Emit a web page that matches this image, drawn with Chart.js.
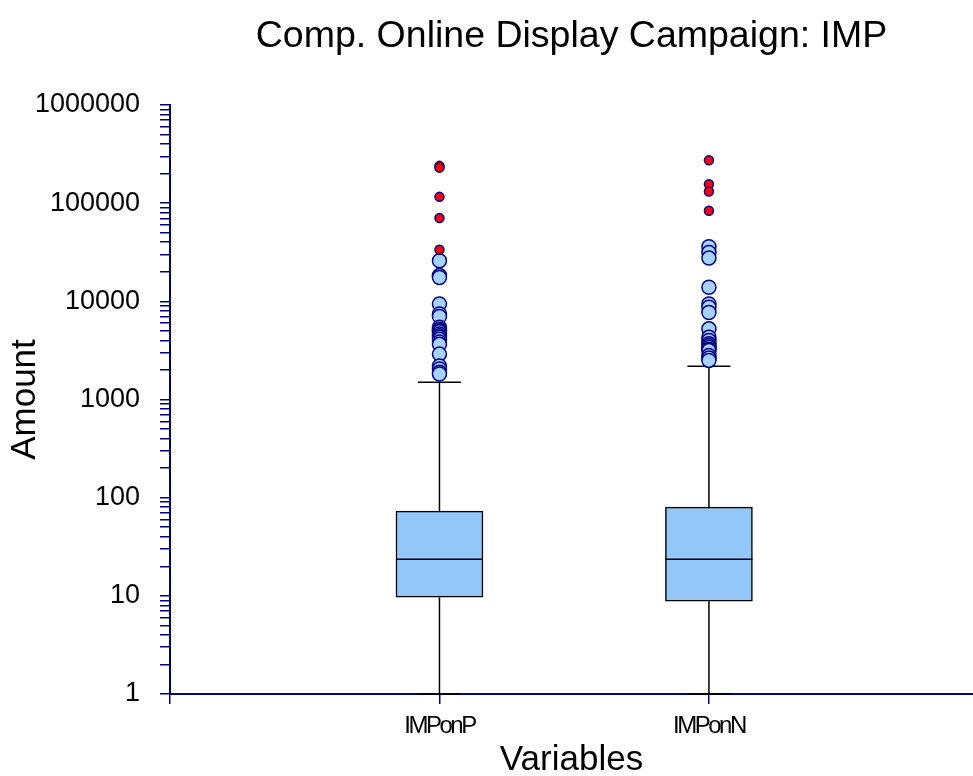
<!DOCTYPE html>
<html>
<head>
<meta charset="utf-8">
<script src="https://cdn.jsdelivr.net/npm/chart.js@4.4.0/dist/chart.umd.min.js"></script>
<style>
  html, body { margin: 0; padding: 0; background: #ffffff; }
  #wrap { width: 973px; height: 776px; }
</style>
</head>
<body>
<div id="wrap"><canvas id="chart" width="973" height="776"></canvas></div>
<script>
// Box-plot summaries for each variable
const categories   = ['IMPonP', 'IMPonN'];
const q1Values     = [9.7, 8.8];
const medianValues = [23.6, 23.6];
const q3Values     = [73, 80];
const whiskerLow   = [1, 1];
const whiskerHigh  = [1500, 2180];

// Outliers beyond the upper fence (light blue) and far outliers (red)
const nearOutliers = [
  [25900, 18300, 17500, 9400, 7450, 7000, 5450, 5200, 5050, 4900, 4650, 4450, 4300, 4100, 3850, 3650, 2900, 2200, 2050, 1900, 1820],
  [36000, 31500, 27600, 13900, 9400, 8700, 7700, 5250, 4300, 4000, 3700, 3550, 3400, 3250, 3150, 2800, 2650, 2500]
];
const farOutliers = [
  [240000, 230000, 116000, 70500, 33500],
  [274000, 156000, 131500, 83600]
];

// Labelled decades on the value axis
const yTickValues = [1, 10, 100, 1000, 10000, 100000, 1000000];

const NAVY = '#000080';
const BLACK = '#000000';
Chart.defaults.color = BLACK;
Chart.defaults.font.family = "'Liberation Sans', Arial, Helvetica, sans-serif";

// position of each category on the linear x axis
const xPos = categories.map((_, i) => i + 1);

// minor + major tick values for the log axis: 1..9 x 10^n
const logTicks = [];
yTickValues.forEach((d, i) => {
  if (i === yTickValues.length - 1) { logTicks.push(d); return; }
  for (let k = 1; k <= 9; k++) logTicks.push(k * d);
});

const whiskerSets = [];
categories.forEach((c, i) => {
  whiskerSets.push({
    type: 'line', order: 6, clip: false,
    data: [{ x: xPos[i], y: q3Values[i] }, { x: xPos[i], y: whiskerHigh[i] }],
    borderColor: BLACK, borderWidth: 1.5, pointRadius: 0, fill: false
  });
  whiskerSets.push({
    type: 'line', order: 6, clip: false,
    data: [{ x: xPos[i], y: q1Values[i] }, { x: xPos[i], y: whiskerLow[i] }],
    borderColor: BLACK, borderWidth: 1.5, pointRadius: 0, fill: false
  });
});

const datasets = [
  ...whiskerSets,
  {
    // whisker caps
    type: 'scatter', order: 6, clip: false,
    data: categories.flatMap((c, i) => [
      { x: xPos[i], y: whiskerHigh[i] },
      { x: xPos[i], y: whiskerLow[i] }
    ]),
    pointStyle: 'line', pointRadius: 21.5,
    pointBorderColor: BLACK, pointBorderWidth: 1.5, pointBackgroundColor: BLACK
  },
  {
    // interquartile boxes
    type: 'bar', order: 5,
    data: categories.map((c, i) => ({ x: xPos[i], y: [q1Values[i], q3Values[i]] })),
    backgroundColor: '#93C6F9', borderColor: BLACK, borderWidth: 1.5,
    borderSkipped: false, barThickness: 87
  },
  {
    // medians
    type: 'scatter', order: 4, clip: false,
    data: categories.map((c, i) => ({ x: xPos[i], y: medianValues[i] })),
    pointStyle: 'line', pointRadius: 43.5,
    pointBorderColor: BLACK, pointBorderWidth: 1.5
  },
  {
    type: 'scatter', order: 3, clip: false,
    data: categories.flatMap((c, i) => nearOutliers[i].map(v => ({ x: xPos[i], y: v }))),
    pointStyle: 'circle', pointRadius: 7,
    pointBackgroundColor: '#A6D2FF', pointBorderColor: NAVY, pointBorderWidth: 1.5
  },
  {
    type: 'scatter', order: 2, clip: false,
    data: categories.flatMap((c, i) => farOutliers[i].map(v => ({ x: xPos[i], y: v }))),
    pointStyle: 'circle', pointRadius: 4.5,
    pointBackgroundColor: '#FF0000', pointBorderColor: NAVY, pointBorderWidth: 1.5
  }
];

// The category labels are drawn in a later layer (ticks.z = 1) with tight letter spacing
const tightCategoryLabels = {
  id: 'tightCategoryLabels',
  afterDatasetsDraw(chart) { chart.ctx.letterSpacing = '-2.5px'; },
  afterDraw(chart) { chart.ctx.letterSpacing = '0px'; }
};

new Chart(document.getElementById('chart'), {
  type: 'bar',
  data: { datasets },
  plugins: [tightCategoryLabels],
  options: {
    responsive: false,
    animation: false,
    events: [],
    devicePixelRatio: 1,
    layout: { padding: 0, autoPadding: false },
    plugins: {
      legend: { display: false },
      tooltip: { enabled: false },
      title: {
        display: true,
        text: 'Comp. Online Display Campaign: IMP',
        fullSize: false,
        color: BLACK,
        font: { size: 37.5, weight: 'normal' },
        padding: { top: 14.5, bottom: 45.5 }
      }
    },
    scales: {
      x: {
        type: 'linear',
        min: 0, max: 2.98,
        offset: false,
        afterFit: s => { s.height = 82; s.paddingLeft = 0; s.paddingRight = 0; },
        afterBuildTicks: s => { s.ticks = [0, 1, 2].map(v => ({ value: v })); },
        grid: { offset: false, drawOnChartArea: false, drawTicks: true, tickLength: 10, color: NAVY, lineWidth: 1.5 },
        border: { display: true, color: NAVY, width: 2 },
        ticks: {
          z: 1,
          autoSkip: false, maxRotation: 0, padding: 8,
          font: { size: 24 },
          callback: v => categories[v - 1] ?? ''
        },
        title: {
          display: true, text: 'Variables', color: BLACK,
          font: { size: 35 }, padding: { top: 0, bottom: -5 }
        }
      },
      y: {
        type: 'logarithmic',
        min: 1, max: 1000000,
        beginAtZero: false,
        afterFit: s => { s.width = 170; },
        afterBuildTicks: s => { s.ticks = logTicks.map(v => ({ value: v, major: yTickValues.includes(v) })); },
        grid: { drawOnChartArea: false, drawTicks: true, tickLength: 10, color: NAVY, lineWidth: 1.5 },
        border: { display: true, color: NAVY, width: 2 },
        ticks: {
          autoSkip: false, padding: 20,
          font: { size: 27 },
          callback: v => yTickValues.includes(v) ? String(v) : ''
        },
        title: {
          display: true, text: 'Amount', color: BLACK,
          font: { size: 35 }, padding: { top: 4, bottom: 0 }
        }
      }
    }
  }
});
</script>
</body>
</html>
